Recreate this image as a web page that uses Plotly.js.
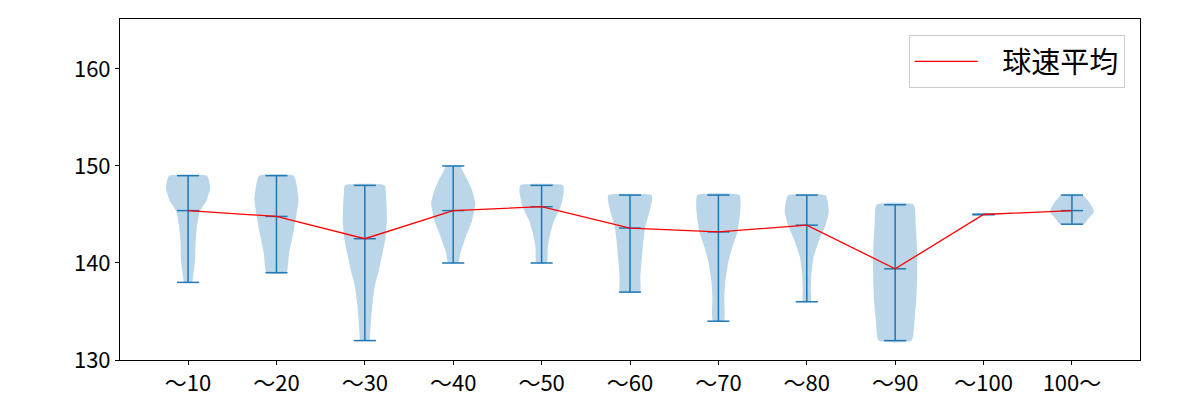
<!DOCTYPE html>
<html>
<head>
<meta charset="utf-8">
<script src="https://cdn.plot.ly/plotly-3.0.1.min.js"></script>
<style>html,body{margin:0;padding:0;background:#fff;}#chart{width:1200px;height:400px;}</style>
</head>
<body>
<div id="chart"></div>
<script>
// Category labels
const categories = ['～10','～20','～30','～40','～50','～60','～70','～80','～90','～100','100～'];
// Mean speed per category
const means = [145.4, 144.8, 142.5, 145.4, 145.8, 143.6, 143.2, 143.9, 139.4, 145.0, 145.4];
// Min / max per category
const mins = [138, 139, 132, 140, 140, 137, 134, 136, 132, 145, 144];
const maxs = [149, 149, 148, 150, 148, 147, 147, 147, 146, 145, 147];
// Violin density profiles (speed levels and relative width)
const profileY = [
  [138,138.6,140.3,142.1,143.7,145.4,146.5,147.7,148.5,149],
  [139,141,143.1,144.8,146.5,148,149],
  [132,132.4,134.1,135.9,137.6,139.3,141,142.5,144.4,146,147.2,148],
  [140,141,142.7,144.4,145.4,146.2,147.5,148.6,149.6,150],
  [140,141.7,143.1,144.4,145.8,147.3,148],
  [137,138.6,140.3,142.1,143.6,145.1,146.5,147],
  [134,136.5,138.2,140,141.7,143.2,145.6,147],
  [136,137.2,138.9,140.6,142.4,143.9,145.3,146.5,147],
  [132,134,136,138,140,142,144,146],
  [],
  [144,144.6,145.3,146.2,147]
];
const profileW = [
  [0.18,0.23,0.32,0.34,0.4,0.55,0.85,1.0,0.95,0.86],
  [0.45,0.57,0.76,0.89,1.0,0.92,0.78],
  [0.22,0.23,0.28,0.35,0.45,0.64,0.8,0.93,1.0,0.98,0.95,0.9],
  [0.23,0.32,0.57,0.86,0.95,1.0,0.85,0.64,0.4,0.33],
  [0.23,0.28,0.4,0.57,0.86,1.0,0.97],
  [0.45,0.47,0.53,0.6,0.68,0.86,1.0,0.98],
  [0.25,0.27,0.32,0.44,0.64,0.86,1.0,0.95],
  [0.18,0.18,0.21,0.31,0.57,0.85,1.0,0.93,0.84],
  [0.75,0.87,0.95,0.99,1.0,0.98,0.93,0.84],
  [],
  [0.55,0.76,1.0,0.8,0.48]
];
const seriesName = '球速平均';

const HALF = 0.25;   // max half-width of a violin (x units)
const CAP = 0.125;   // half-length of cap lines
const positions = categories.map((_, i) => i + 1);
const blue = '#1f77b4';
const traces = [];

// violin bodies
positions.forEach((p, i) => {
  const ys = profileY[i], ws = profileW[i];
  if (!ys.length) return;
  const x = [], y = [];
  for (let k = 0; k < ys.length; k++) { x.push(p + ws[k] * HALF); y.push(ys[k]); }
  for (let k = ys.length - 1; k >= 0; k--) { x.push(p - ws[k] * HALF); y.push(ys[k]); }
  x.push(x[0]); y.push(y[0]);
  traces.push({
    type: 'scatter', mode: 'lines', x: x, y: y,
    fill: 'toself', fillcolor: 'rgba(31,119,180,0.3)',
    line: {width: 0, shape: 'spline', smoothing: 0.5},
    showlegend: false, hoverinfo: 'skip'
  });
});

// vertical bars and caps
const lx = [], ly = [];
positions.forEach((p, i) => {
  lx.push(p, p, null); ly.push(mins[i], maxs[i], null);
  [mins[i], maxs[i], means[i]].forEach(v => {
    lx.push(p - CAP, p + CAP, null); ly.push(v, v, null);
  });
});
traces.push({
  type: 'scatter', mode: 'lines', x: lx, y: ly,
  line: {color: blue, width: 1.5}, showlegend: false, hoverinfo: 'skip'
});

// mean line
traces.push({
  type: 'scatter', mode: 'lines', x: positions, y: means,
  name: '\u00a0\u00a0\u00a0' + seriesName, line: {color: '#ff0000', width: 1.3}
});

const layout = {
  width: 1200, height: 400,
  margin: {l: 120, r: 60, t: 19, b: 40},
  paper_bgcolor: '#ffffff', plot_bgcolor: '#ffffff',
  font: {family: '"Noto Sans CJK JP", "DejaVu Sans", sans-serif', size: 22, color: '#000'},
  xaxis: {
    range: [0.23, 11.77], tickvals: positions, ticktext: categories,
    showgrid: false, zeroline: false, showline: true, mirror: true,
    linecolor: '#000', linewidth: 1, ticks: 'outside', ticklen: 4, tickcolor: '#000',
    tickfont: {size: 22}
  },
  yaxis: {
    range: [130, 165.15], tickvals: [130, 140, 150, 160],
    showgrid: false, zeroline: false, showline: true, mirror: true,
    linecolor: '#000', linewidth: 1, ticks: 'outside', ticklen: 4, tickcolor: '#000',
    tickfont: {size: 22}
  },
  showlegend: true,
  legend: {
    x: 0.985, xanchor: 'right', y: 0.953, yanchor: 'top',
    bordercolor: '#cccccc', borderwidth: 1, bgcolor: 'rgba(255,255,255,0.8)',
    font: {size: 29}, itemwidth: 63
  }
};

Plotly.newPlot('chart', traces, layout, {displayModeBar: false, staticPlot: true});
</script>
</body>
</html>
